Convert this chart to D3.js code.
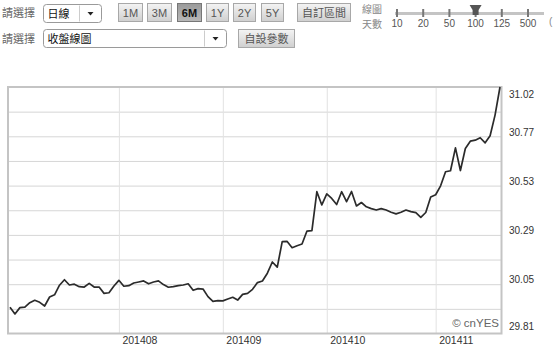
<!DOCTYPE html>
<html>
<head>
<meta charset="utf-8">
<script src="https://cdn.jsdelivr.net/npm/d3@7"></script>
<style>
  body { margin: 0; background: #fff; }
  svg { display: block; font-family: "Liberation Sans", Arial, sans-serif; }
  .cjk { font-family: "Noto Sans CJK TC", "Noto Sans CJK SC", sans-serif; }
</style>
</head>
<body>
<div id="chart"></div>
<script>
// daily closes, one per trading day (Jul - mid Nov 2014)
const closes = [
  29.939, 29.906, 29.937, 29.939, 29.961, 29.973, 29.963, 29.945, 29.989, 30.000,
  30.047, 30.074, 30.048, 30.052, 30.040, 30.038, 30.056, 30.038, 30.038, 30.007,
  30.010, 30.043, 30.071, 30.042, 30.045, 30.058, 30.063, 30.068, 30.054, 30.063,
  30.068, 30.050, 30.037, 30.040, 30.045, 30.048, 30.054, 30.022, 30.030, 30.028,
  29.991, 29.968, 29.971, 29.970, 29.979, 29.988, 29.974, 30.002, 30.007, 30.027,
  30.060, 30.068, 30.106, 30.161, 30.136, 30.261, 30.262, 30.231, 30.241, 30.249,
  30.313, 30.315, 30.506, 30.441, 30.495, 30.473, 30.443, 30.506, 30.457, 30.507,
  30.436, 30.453, 30.432, 30.423, 30.416, 30.423, 30.416, 30.405, 30.397, 30.405,
  30.416, 30.408, 30.403, 30.380, 30.404, 30.480, 30.491, 30.535, 30.604, 30.609,
  30.721, 30.610, 30.718, 30.754, 30.759, 30.771, 30.746, 30.781, 30.882, 31.020
];

// first trading day index of each month
const monthStarts = [22, 43, 64, 86];
const monthLabels = ['201408', '201409', '201410', '201411'];
const yTickLabels = ['29.81', '30.05', '30.29', '30.53', '30.77', '31.02'];

const rangeButtons = ['1M', '3M', '6M', '1Y', '2Y', '5Y', '自訂區間'];
const activeButton = '6M';
const sliderLabels = ['10', '20', '50', '100', '125', '500'];
const sliderValue = '100';

const W = 553, H = 345;
const plot = { left: 8, top: 87, right: 501.5, bottom: 333.5 };

const svg = d3.select('#chart').append('svg')
  .attr('width', W)
  .attr('height', H);

// ---------- header controls ----------
const header = svg.append('g');

const grad = svg.append('defs').append('linearGradient')
  .attr('id', 'btn').attr('x1', 0).attr('y1', 0).attr('x2', 0).attr('y2', 1);
grad.append('stop').attr('offset', '0%').attr('stop-color', '#f4f4f4');
grad.append('stop').attr('offset', '100%').attr('stop-color', '#cfcfcf');
const gradOn = svg.select('defs').append('linearGradient')
  .attr('id', 'btnOn').attr('x1', 0).attr('y1', 0).attr('x2', 0).attr('y2', 1);
gradOn.append('stop').attr('offset', '0%').attr('stop-color', '#9a9a9a');
gradOn.append('stop').attr('offset', '100%').attr('stop-color', '#b8b8b8');

['請選擇', '請選擇'].forEach((t, i) => {
  header.append('text').attr('class', 'cjk')
    .attr('x', 2).attr('y', 17 + i * 26)
    .attr('font-size', 11).attr('fill', '#666')
    .text(t);
});

function dropdown(x, y, w, h, label) {
  const g = header.append('g').attr('transform', `translate(${x},${y})`);
  g.append('rect').attr('width', w).attr('height', h).attr('rx', 3)
    .attr('fill', '#fff').attr('stroke', '#9a9a9a');
  g.append('line').attr('x1', w - 22).attr('x2', w - 22).attr('y1', 1).attr('y2', h - 1)
    .attr('stroke', '#ccc');
  g.append('path')
    .attr('d', `M${w - 14},${h / 2 - 1.5}h6l-3,3.5z`)
    .attr('fill', '#222');
  g.append('text').attr('class', 'cjk')
    .attr('x', 4).attr('y', h / 2 + 4)
    .attr('font-size', 11).attr('fill', '#111')
    .text(label);
}
dropdown(43.5, 4.5, 58, 18, '日線');
dropdown(43.5, 29.5, 183, 18, '收盤線圖');

function button(x, y, w, h, label, on) {
  const g = header.append('g').attr('transform', `translate(${x},${y})`);
  g.append('rect').attr('width', w).attr('height', h)
    .attr('fill', on ? 'url(#btnOn)' : 'url(#btn)')
    .attr('stroke', on ? '#777' : '#a8a8a8');
  g.append('text').attr('class', /[A-Z0-9]/.test(label) ? '' : 'cjk')
    .attr('x', w / 2).attr('y', h / 2 + 4)
    .attr('text-anchor', 'middle')
    .attr('font-size', 11)
    .attr('font-weight', on ? 'bold' : 'normal')
    .attr('fill', on ? '#111' : '#555')
    .text(label);
}
const btnX = [118, 147, 177, 206, 233, 261, 297];
const btnW = [24, 24, 24, 22, 22, 22, 53];
rangeButtons.forEach((b, i) => button(btnX[i] + 0.5, 3.5, btnW[i], 18, b, b === activeButton));
button(238.5, 29.5, 56, 18, '自設參數', false);

// moving average days slider
header.append('text').attr('class', 'cjk').attr('x', 362).attr('y', 13)
  .attr('font-size', 10).attr('fill', '#888').text('線圖');
header.append('text').attr('class', 'cjk').attr('x', 362).attr('y', 28)
  .attr('font-size', 10).attr('fill', '#888').text('天數');

const sx = d3.scalePoint().domain(sliderLabels).range([397, 528]);
header.append('rect').attr('x', 395).attr('y', 12).attr('width', 149).attr('height', 3)
  .attr('fill', '#c4c4c4');
sliderLabels.forEach(l => {
  header.append('rect').attr('x', sx(l) - 1).attr('y', 9).attr('width', 2).attr('height', 8)
    .attr('fill', '#777');
  header.append('text').attr('x', sx(l)).attr('y', 27)
    .attr('text-anchor', 'middle').attr('font-size', 10).attr('fill', '#555')
    .text(l);
});
header.append('path')
  .attr('d', `M${sx(sliderValue) - 6},5h12l-3,5v5h-6v-5z`)
  .attr('fill', '#555');
header.append('text').attr('x', 549).attr('y', 25).attr('font-size', 10).attr('fill', '#888').text('(');

// ---------- chart ----------
const x = d3.scaleLinear().domain([0, closes.length - 1]).range([10, 500]);
const y = d3.scaleLinear().domain([+yTickLabels[0], +yTickLabels[yTickLabels.length - 1]])
  .range([plot.bottom, plot.top]);

const chart = svg.append('g');

chart.append('rect')
  .attr('x', plot.left).attr('y', plot.top)
  .attr('width', plot.right - plot.left).attr('height', plot.bottom - plot.top)
  .attr('fill', '#fff');

// horizontal grid: 10 bands
const [y0, y1] = y.domain();
const gridVals = d3.range(1, 10).map(k => y0 + (y1 - y0) * k / 10);
chart.append('g')
  .attr('transform', `translate(${plot.left},0)`)
  .call(d3.axisLeft(y).tickValues(gridVals).tickSize(-(plot.right - plot.left)).tickFormat(''))
  .call(g => g.select('.domain').remove())
  .call(g => g.selectAll('line').attr('stroke', '#d6d6d6'));

// month grid + labels
chart.append('g')
  .attr('transform', `translate(0,${plot.bottom})`)
  .call(d3.axisBottom(x).tickValues(monthStarts)
    .tickSize(-(plot.bottom - plot.top))
    .tickFormat((d, i) => monthLabels[i]))
  .call(g => g.select('.domain').remove())
  .call(g => g.selectAll('line').attr('stroke', '#e2e2e2'))
  .call(g => g.selectAll('text')
    .attr('text-anchor', 'start')
    .attr('x', 3).attr('y', 3).attr('dy', '0.71em')
    .attr('font-size', 10.5).attr('fill', '#333')
    .attr('font-family', '"Liberation Sans", Arial, sans-serif'));

// frame
chart.append('rect')
  .attr('x', plot.left).attr('y', plot.top)
  .attr('width', plot.right - plot.left).attr('height', plot.bottom - plot.top)
  .attr('fill', 'none').attr('stroke', '#c4c4c4').attr('stroke-width', 2);

// right value labels
chart.append('g')
  .selectAll('text')
  .data(yTickLabels)
  .join('text')
  .attr('x', 509)
  .attr('y', d => Math.min(Math.max(y(+d) - 2, 98), 330))
  .attr('font-size', 10).attr('fill', '#333')
  .text(d => d);

// close line
chart.append('path')
  .datum(closes)
  .attr('fill', 'none')
  .attr('stroke', '#2b2b2b')
  .attr('stroke-width', 1.7)
  .attr('stroke-linejoin', 'round')
  .attr('d', d3.line().x((d, i) => x(i)).y(d => y(d)));

chart.append('text')
  .attr('x', 499).attr('y', 327)
  .attr('text-anchor', 'end')
  .attr('font-size', 11.5).attr('fill', '#666')
  .text('© cnYES');
</script>
</body>
</html>
